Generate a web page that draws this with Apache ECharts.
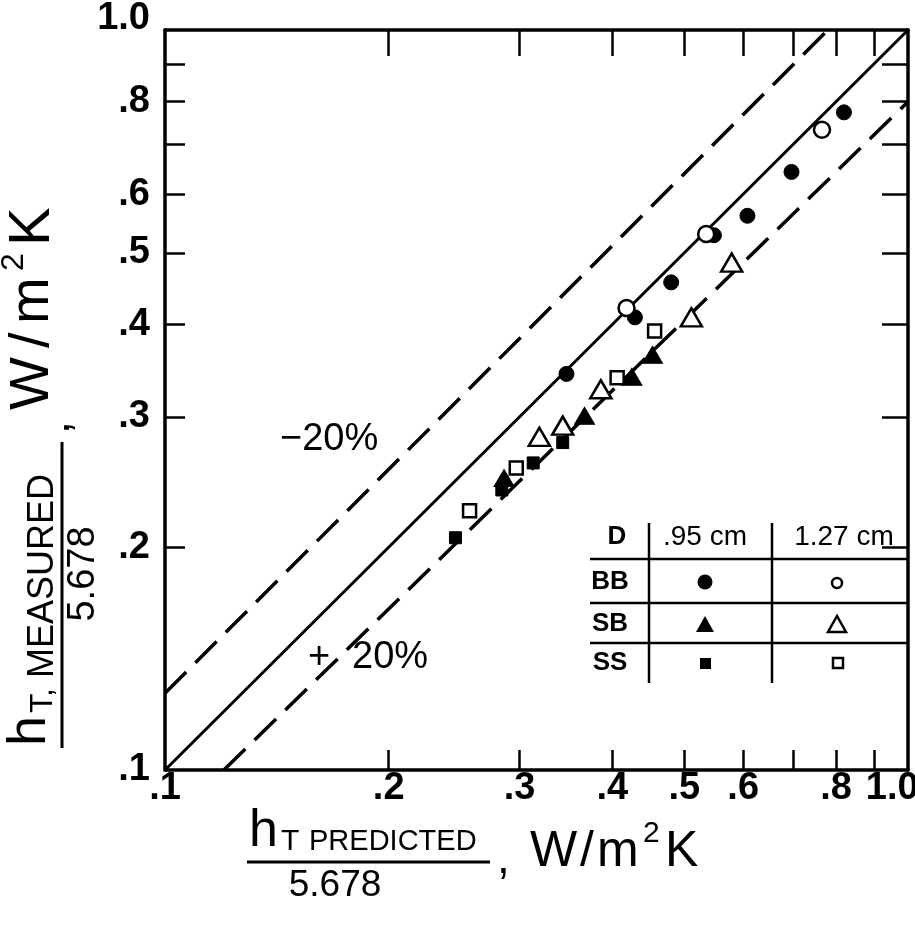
<!DOCTYPE html>
<html>
<head>
<meta charset="utf-8">
<script src="https://cdn.jsdelivr.net/npm/echarts@6/dist/echarts.min.js"></script>
<style>
  html, body { margin: 0; padding: 0; background: #fff; }
  #chart { width: 915px; height: 926px; }
</style>
</head>
<body>
<div id="chart"></div>
<script>
// Tick positions and labels on both logarithmic axes
const tickValues = [0.2, 0.3, 0.4, 0.5, 0.6, 0.7, 0.8, 0.9];
const labelValues = [0.1, 0.2, 0.3, 0.4, 0.5, 0.6, 0.8, 1.0];

// Reference lines: perfect agreement and the -20% / +20% bands (end points)
const lineExact = [[0.1, 0.1], [1.0, 1.0]];
const lineMinus20 = [[0.1, 0.127], [0.78, 1.0]];
const linePlus20 = [[0.12, 0.1], [1.0, 0.80]];

// [predicted, measured] for each bundle type and tube diameter
const bb095 = [[0.820, 0.774], [0.697, 0.643], [0.608, 0.561], [0.548, 0.528], [0.480, 0.456], [0.429, 0.409], [0.347, 0.343]];
const bb127 = [[0.766, 0.733], [0.535, 0.530], [0.418, 0.421]];
const sb095 = [[0.453, 0.364], [0.425, 0.340], [0.367, 0.301], [0.286, 0.248]];
const sb127 = [[0.579, 0.485], [0.511, 0.409], [0.386, 0.327], [0.343, 0.292], [0.319, 0.282]];
const ss095 = [[0.246, 0.206], [0.284, 0.239], [0.313, 0.260], [0.343, 0.277]];
const ss127 = [[0.456, 0.392], [0.406, 0.339], [0.297, 0.256], [0.257, 0.224]];

const FONT = '"Liberation Sans", Arial, sans-serif';
const BLACK = '#000';

// trailing spaces pull the last centred label back inside the frame
function fmtTickX(v) {
  if (v >= 0.999) return '1.0   ';
  return '.' + Math.round(v * 10);
}
function fmtTickY(v) {
  if (v >= 0.999) return '{top|1.0}';
  return '.' + Math.round(v * 10);
}

function logAxis(pos, tickLen, extra) {
  return Object.assign({
    type: 'log',
    logBase: 10,
    min: 0.1,
    max: 1,
    position: pos,
    axisLine: { show: true, onZero: false, lineStyle: { color: BLACK, width: 3.5 } },
    axisTick: { show: true, inside: true, length: tickLen, customValues: tickValues,
                lineStyle: { color: BLACK, width: 2.5 } },
    minorTick: { show: false },
    splitLine: { show: false },
    axisLabel: { show: false }
  }, extra || {});
}

const openStyle = { color: '#fff', borderColor: BLACK, borderWidth: 2.5, opacity: 1 };
const fillStyle = { color: BLACK, borderColor: BLACK, borderWidth: 1, opacity: 1 };

function scatter(name, data, symbol, size, style) {
  return {
    name, type: 'scatter', data, symbol, symbolSize: size,
    xAxisIndex: 0, yAxisIndex: 0, itemStyle: style, z: 5,
    emphasis: { disabled: true }
  };
}
function refLine(name, data, dashed) {
  return {
    name, type: 'line', data, symbol: 'none', xAxisIndex: 0, yAxisIndex: 0, z: 3,
    lineStyle: { color: BLACK, width: dashed ? 3.5 : 3, type: dashed ? [30, 13] : 'solid', cap: 'butt' },
    silent: true, clip: true
  };
}

function txt(text, x, y, size, align, weight) {
  return {
    type: 'text', x, y,
    style: {
      text, fill: BLACK, font: (weight || 'normal') + ' ' + size + 'px ' + FONT,
      align: align || 'left', verticalAlign: 'middle',
      textAlign: align || 'left', textVerticalAlign: 'middle'
    }
  };
}
function rule(x1, y1, x2, y2, w) {
  return { type: 'line', shape: { x1, y1, x2, y2 }, style: { stroke: BLACK, lineWidth: w || 2.5 } };
}

// Legend table (drawn as a small ruled grid)
const legendEls = [
  rule(649, 523, 649, 683),
  rule(772, 523, 772, 683),
  rule(590, 559, 908, 559),
  rule(590, 603, 908, 603),
  rule(590, 643, 908, 643),
  txt('D', 617, 537, 26, 'center', 'bold'),
  txt('.95 cm', 705, 537, 28, 'center'),
  txt('1.27 cm', 844, 537, 28, 'center'),
  txt('BB', 610, 582, 26, 'center', 'bold'),
  txt('SB', 610, 624, 26, 'center', 'bold'),
  txt('SS', 610, 663, 26, 'center', 'bold'),
  { type: 'circle', shape: { cx: 705, cy: 582, r: 7.5 }, style: { fill: BLACK } },
  { type: 'circle', shape: { cx: 837, cy: 583, r: 5 }, style: { fill: '#fff', stroke: BLACK, lineWidth: 2.5 } },
  { type: 'polygon', shape: { points: [[705, 616], [714, 632], [696, 632]] }, style: { fill: BLACK } },
  { type: 'polygon', shape: { points: [[837, 616], [846, 632], [828, 632]] }, style: { fill: '#fff', stroke: BLACK, lineWidth: 2.5 } },
  { type: 'rect', shape: { x: 700, y: 658, width: 11, height: 11 }, style: { fill: BLACK } },
  { type: 'rect', shape: { x: 833, y: 658, width: 10, height: 10 }, style: { fill: '#fff', stroke: BLACK, lineWidth: 2.5 } }
];

// Band annotations
const noteEls = [
  txt('\u221220%', 280, 440, 38, 'left'),
  txt('+', 308, 658, 38, 'left'),
  txt('20%', 352, 658, 38, 'left')
];

// x-axis title: h_T PREDICTED / 5.678 , W/m^2K
const xTitle = [
  txt('h', 249, 832, 52, 'left'),
  txt('T', 281, 842, 30, 'left'),
  txt('PREDICTED', 309, 842, 29, 'left'),
  rule(247, 862, 490, 862, 3),
  txt('5.678', 335, 886, 37, 'center'),
  txt(',', 497, 860, 46, 'left'),
  txt('W', 530, 852, 50, 'left'),
  txt('/', 580, 852, 50, 'left'),
  txt('m', 597, 852, 50, 'left'),
  txt('2', 643, 834, 30, 'left'),
  txt('K', 665, 852, 50, 'left')
];

// y-axis title, laid out horizontally then turned to read upwards
const yTitle = {
  type: 'group', x: 0, y: 926, rotation: Math.PI / 2,
  children: [
    txt('h', 180, 30, 54, 'left'),
    txt('T,', 213, 43, 32, 'left'),
    txt('MEASURED', 248, 43, 36, 'left'),
    rule(178, 62, 484, 62, 3),
    txt('5.678', 352, 84, 38, 'center'),
    txt(',', 492, 56, 46, 'left'),
    txt('W', 516, 33, 56, 'left'),
    txt('/', 578, 33, 56, 'left'),
    txt('m', 602, 33, 56, 'left'),
    txt('2', 655, 14, 32, 'left'),
    txt('K', 680, 33, 58, 'left')
  ]
};

const tickLabelStyle = { color: BLACK, fontSize: 38, fontFamily: FONT, fontWeight: 'bold' };

const option = {
  animation: false,
  backgroundColor: '#fff',
  grid: { left: 165, right: 7, top: 30, bottom: 156, containLabel: false, outerBoundsMode: 'none' },
  xAxis: [
    logAxis('bottom', 20, {
      axisLabel: Object.assign({ show: true, customValues: labelValues, formatter: fmtTickX, margin: 0 }, tickLabelStyle)
    }),
    logAxis('top', 26)
  ],
  yAxis: [
    logAxis('left', 20, {
      axisLabel: Object.assign({ show: true, customValues: labelValues, formatter: fmtTickY, margin: 15,
                   rich: { top: Object.assign({ padding: [0, 0, 22, 0] }, tickLabelStyle) } }, tickLabelStyle)
    }),
    logAxis('right', 26)
  ],
  series: [
    refLine('exact', lineExact, false),
    refLine('-20%', lineMinus20, true),
    refLine('+20%', linePlus20, true),
    scatter('BB .95 cm', bb095, 'circle', 15, fillStyle),
    scatter('BB 1.27 cm', bb127, 'circle', 16, openStyle),
    scatter('SB .95 cm', sb095, 'triangle', [20, 17], fillStyle),
    scatter('SB 1.27 cm', sb127, 'triangle', [21, 18], openStyle),
    scatter('SS .95 cm', ss095, 'rect', 12, fillStyle),
    scatter('SS 1.27 cm', ss127, 'rect', 13, openStyle)
  ],
  graphic: { elements: legendEls.concat(noteEls, xTitle, [yTitle]) }
};

const chart = echarts.init(document.getElementById('chart'), null, { renderer: 'canvas' });
chart.setOption(option);
</script>
</body>
</html>
